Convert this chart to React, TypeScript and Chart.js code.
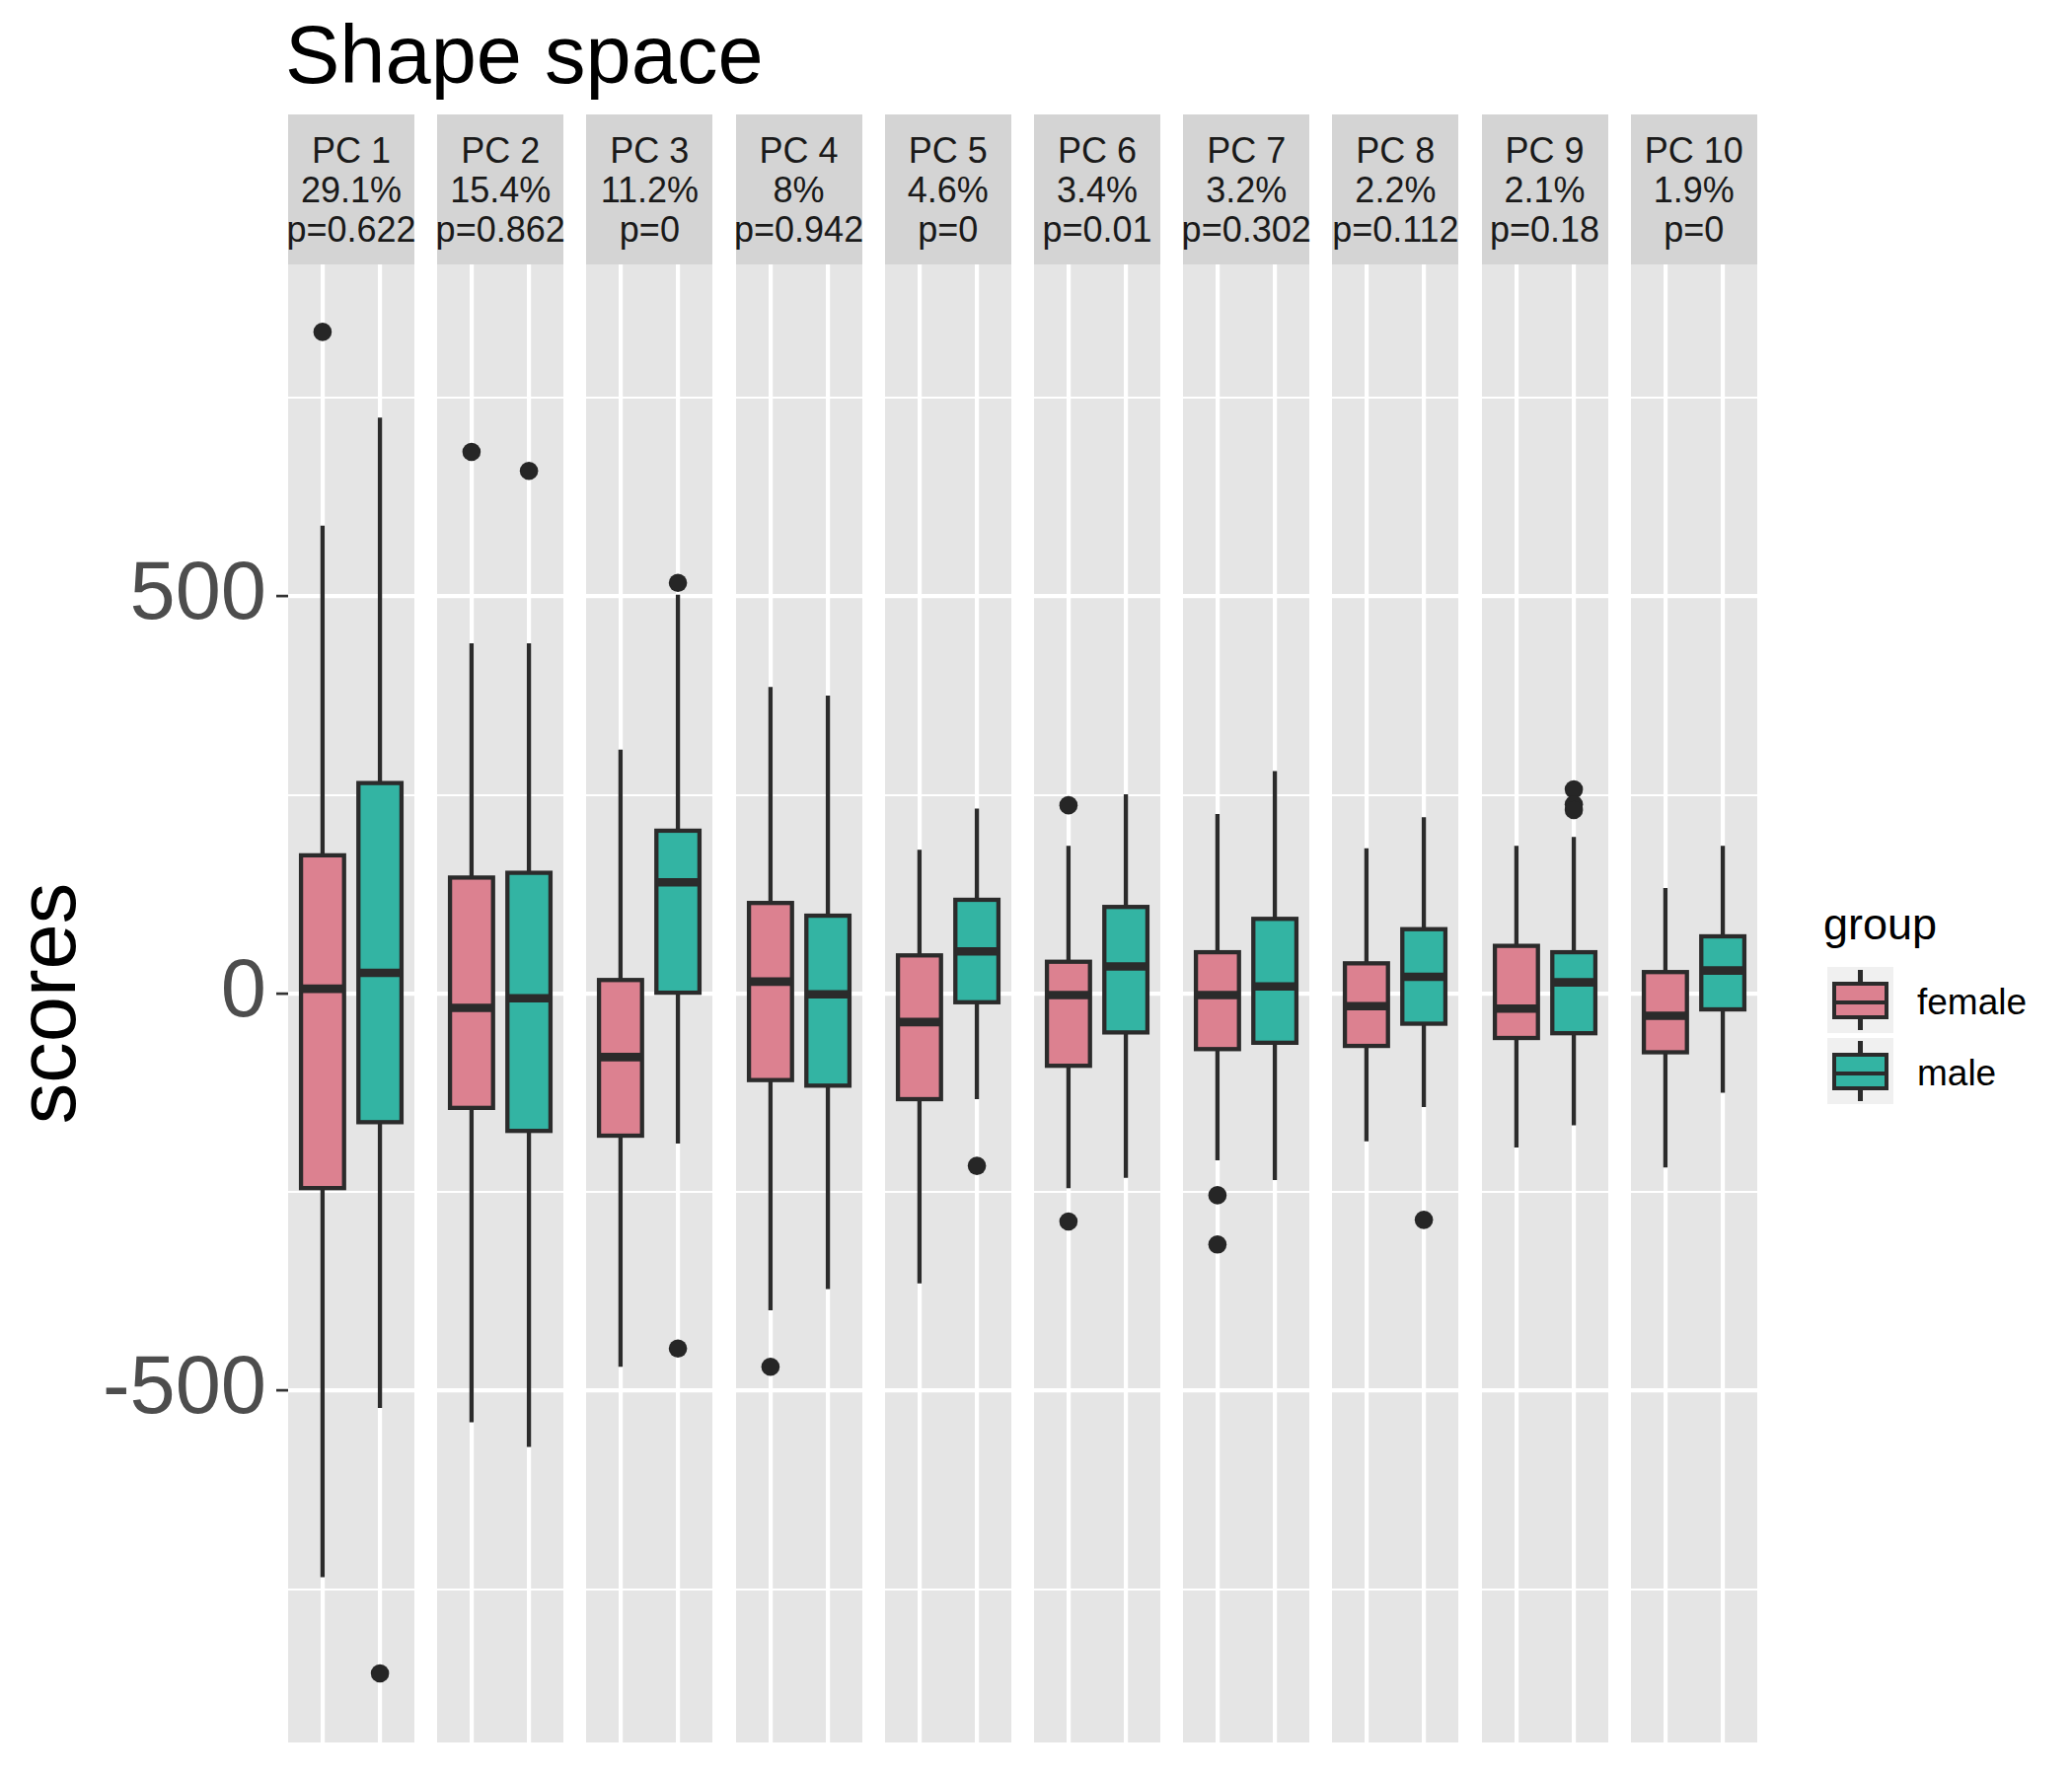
import React, { useEffect, useRef } from 'react';
import { Chart, registerables } from 'chart.js';

Chart.register(...registerables);

// facet labels
const pcLabels = ['PC 1', 'PC 2', 'PC 3', 'PC 4', 'PC 5', 'PC 6', 'PC 7', 'PC 8', 'PC 9', 'PC 10'];
const varianceLabels = ['29.1%', '15.4%', '11.2%', '8%', '4.6%', '3.4%', '3.2%', '2.2%', '2.1%', '1.9%'];
const pLabels = ['p=0.622', 'p=0.862', 'p=0', 'p=0.942', 'p=0', 'p=0.01', 'p=0.302', 'p=0.112', 'p=0.18', 'p=0'];

const groups = ['female', 'male'];
const groupColors = ['#DC8190', '#33B4A3'];

// box summaries per component
const femaleLower = [-735, -540, -470, -399, -365, -245, -210, -186, -194, -219];
const femaleQ1 = [-245, -144, -179, -109, -133, -91, -70, -66, -56, -74];
const femaleMedian = [6, -18, -80, 15, -36, -2, -2, -16, -19, -28];
const femaleQ3 = [174, 146, 17, 114, 48, 40, 52, 38, 60, 27];
const femaleUpper = [589, 441, 307, 386, 181, 186, 226, 183, 186, 133];
const femaleOutliers = [[833], [682], [], [-470], [], [237, -287], [-254, -316], [], [], []];

const maleLower = [-522, -571, -189, -372, -133, -232, -235, -143, -166, -125];
const maleQ1 = [-162, -173, 1, -116, -11, -49, -62, -38, -50, -20];
const maleMedian = [26, -6, 140, -1, 53, 34, 9, 21, 14, 29];
const maleQ3 = [265, 152, 205, 98, 118, 109, 94, 81, 52, 72];
const maleUpper = [725, 441, 502, 375, 233, 251, 280, 222, 197, 186];
const maleOutliers = [[-856], [658], [517, -447], [], [-217], [], [], [-285], [257, 238, 231], []];

const yTicks = [-750, -500, -250, 0, 250, 500, 750];
const yMin = -943;
const yMax = 918;

// layout (px)
const FONT = '"Liberation Sans", Arial, Helvetica, sans-serif';
const PANEL_LEFT = 292;
const PANEL_PITCH = 151.2;
const PANEL_W = 128;
const PANEL_TOP = 268;
const PANEL_H = 1498;
const STRIP_TOP = 116;
const AXIS_W = 292;
const LINE = '#2B2B2B';

const Panel: React.FC<{ index: number }> = ({ index }) => {
  const canvasRef = useRef<HTMLCanvasElement>(null);
  const withAxis = index === 0;

  useEffect(() => {
    if (!canvasRef.current) return;

    const stats = [
      {
        lower: femaleLower[index], q1: femaleQ1[index], median: femaleMedian[index],
        q3: femaleQ3[index], upper: femaleUpper[index],
      },
      {
        lower: maleLower[index], q1: maleQ1[index], median: maleMedian[index],
        q3: maleQ3[index], upper: maleUpper[index],
      },
    ];

    const outlierPoints = [
      ...femaleOutliers[index].map(y => ({ x: 1, y })),
      ...maleOutliers[index].map(y => ({ x: 2, y })),
    ];

    const boxPlugin = {
      id: 'boxes',
      beforeDraw(chart: Chart) {
        const { ctx, chartArea } = chart;
        ctx.save();
        ctx.fillStyle = '#E5E5E5';
        ctx.fillRect(chartArea.left, chartArea.top, chartArea.right - chartArea.left, chartArea.bottom - chartArea.top);
        ctx.restore();
      },
      beforeDatasetsDraw(chart: Chart) {
        const { ctx } = chart;
        const xs = chart.scales.x;
        const ys = chart.scales.y;
        ctx.save();
        ctx.strokeStyle = LINE;
        ctx.lineCap = 'butt';
        ctx.lineJoin = 'miter';
        stats.forEach((s, g) => {
          const cx = xs.getPixelForValue(g + 1);
          const x0 = xs.getPixelForValue(g + 1 - 0.375);
          const x1 = xs.getPixelForValue(g + 1 + 0.375);
          const yLo = ys.getPixelForValue(s.lower);
          const yQ1 = ys.getPixelForValue(s.q1);
          const yMed = ys.getPixelForValue(s.median);
          const yQ3 = ys.getPixelForValue(s.q3);
          const yHi = ys.getPixelForValue(s.upper);

          // whiskers
          ctx.lineWidth = 4.3;
          ctx.beginPath();
          ctx.moveTo(cx, yQ3);
          ctx.lineTo(cx, yHi);
          ctx.moveTo(cx, yQ1);
          ctx.lineTo(cx, yLo);
          ctx.stroke();

          // box
          ctx.fillStyle = groupColors[g];
          ctx.fillRect(x0, yQ3, x1 - x0, yQ1 - yQ3);
          ctx.strokeRect(x0, yQ3, x1 - x0, yQ1 - yQ3);

          // median
          ctx.lineWidth = 8.6;
          ctx.beginPath();
          ctx.moveTo(x0, yMed);
          ctx.lineTo(x1, yMed);
          ctx.stroke();
        });
        ctx.restore();
      },
    };

    const chart = new Chart(canvasRef.current, {
      type: 'scatter',
      data: {
        datasets: [
          {
            label: 'outliers',
            data: outlierPoints,
            pointRadius: 9.3,
            pointHoverRadius: 9.3,
            pointBackgroundColor: '#262626',
            pointBorderWidth: 0,
          },
        ],
      },
      options: {
        animation: false,
        responsive: true,
        maintainAspectRatio: false,
        events: [],
        layout: { padding: 0, autoPadding: false },
        plugins: {
          legend: { display: false },
          tooltip: { enabled: false },
        },
        scales: {
          x: {
            type: 'linear',
            min: 0.4,
            max: 2.6,
            afterBuildTicks: (scale: any) => {
              scale.ticks = [{ value: 1 }, { value: 2 }];
            },
            ticks: { display: false },
            border: { display: false },
            grid: { color: '#FFFFFF', lineWidth: 4.2, drawTicks: false },
          },
          y: {
            type: 'linear',
            min: yMin,
            max: yMax,
            afterBuildTicks: (scale: any) => {
              scale.ticks = yTicks.map(value => ({ value }));
            },
            afterFit: (scale: any) => {
              scale.width = withAxis ? AXIS_W : 0;
              scale.paddingTop = 0;
              scale.paddingBottom = 0;
            },
            border: { display: false },
            grid: {
              color: '#FFFFFF',
              lineWidth: (c: any) => (c.tick && c.tick.value % 500 === 0 ? 4.2 : 2.1),
              drawTicks: withAxis,
              tickLength: 12,
              tickWidth: 2.7,
              tickColor: (c: any) => (c.tick && c.tick.value % 500 === 0 ? '#333333' : 'rgba(0,0,0,0)'),
            },
            ticks: {
              display: withAxis,
              autoSkip: false,
              padding: 10,
              color: '#4D4D4D',
              font: { family: FONT, size: 83 },
              callback: (v: any) => (Number(v) % 500 === 0 ? String(v) : ''),
            },
            title: {
              display: withAxis,
              text: 'scores',
              color: '#000000',
              font: { family: FONT, size: 83 },
              padding: { top: 3, bottom: 0 },
            },
          },
        },
      },
      plugins: [boxPlugin],
    } as any);

    return () => {
      chart.destroy();
    };
  }, [index, withAxis]);

  const left = withAxis ? 0 : PANEL_LEFT + index * PANEL_PITCH;
  const width = withAxis ? AXIS_W + PANEL_W : PANEL_W;

  return (
    <div style={{ position: 'absolute', left, top: PANEL_TOP, width, height: PANEL_H }}>
      <canvas ref={canvasRef}></canvas>
    </div>
  );
};

const Strip: React.FC<{ index: number }> = ({ index }) => (
  <div
    style={{
      position: 'absolute',
      left: PANEL_LEFT + index * PANEL_PITCH,
      top: STRIP_TOP,
      width: PANEL_W,
      height: PANEL_TOP - STRIP_TOP,
      background: '#D4D4D4',
    }}
  >
    <div
      style={{
        position: 'absolute',
        left: -30,
        width: PANEL_W + 60,
        top: 17,
        textAlign: 'center',
        whiteSpace: 'nowrap',
        fontFamily: FONT,
        fontSize: 36,
        lineHeight: '40px',
        color: '#1A1A1A',
      }}
    >
      <div>{pcLabels[index]}</div>
      <div>{varianceLabels[index]}</div>
      <div>{pLabels[index]}</div>
    </div>
  </div>
);

const LegendKey: React.FC<{ g: number; top: number }> = ({ g, top }) => (
  <div style={{ position: 'absolute', left: 1852, top, width: 67, height: 67, background: '#F0F0F0' }}>
    <div style={{ position: 'absolute', left: 31.4, top: 3, width: 4.3, height: 61, background: LINE }} />
    <div
      style={{
        position: 'absolute',
        left: 5,
        top: 15,
        width: 57,
        height: 38,
        boxSizing: 'border-box',
        border: `4.3px solid ${LINE}`,
        background: groupColors[g],
      }}
    />
    <div style={{ position: 'absolute', left: 5, top: 34, width: 57, height: 4.3, background: LINE }} />
  </div>
);

const App: React.FC = () => {
  return (
    <div
      style={{
        position: 'absolute',
        left: 0,
        top: 0,
        width: 2100,
        height: 1800,
        background: '#FFFFFF',
        overflow: 'hidden',
        fontFamily: FONT,
      }}
    >
      <div
        style={{
          position: 'absolute',
          left: 289,
          top: 14,
          fontSize: 83,
          lineHeight: '83px',
          color: '#000000',
          whiteSpace: 'nowrap',
        }}
      >
        Shape space
      </div>

      {pcLabels.map((_, i) => (
        <Strip key={`s${i}`} index={i} />
      ))}
      {pcLabels.map((_, i) => (
        <Panel key={`p${i}`} index={i} />
      ))}

      {/* legend */}
      <div style={{ position: 'absolute', left: 1848, top: 914, fontSize: 45, lineHeight: '45px', color: '#000' }}>
        group
      </div>
      {groups.map((name, g) => (
        <React.Fragment key={name}>
          <LegendKey g={g} top={980 + g * 72} />
          <div
            style={{
              position: 'absolute',
              left: 1943,
              top: 997 + g * 72,
              fontSize: 37,
              lineHeight: '37px',
              color: '#000',
            }}
          >
            {name}
          </div>
        </React.Fragment>
      ))}
    </div>
  );
};

export default App;
